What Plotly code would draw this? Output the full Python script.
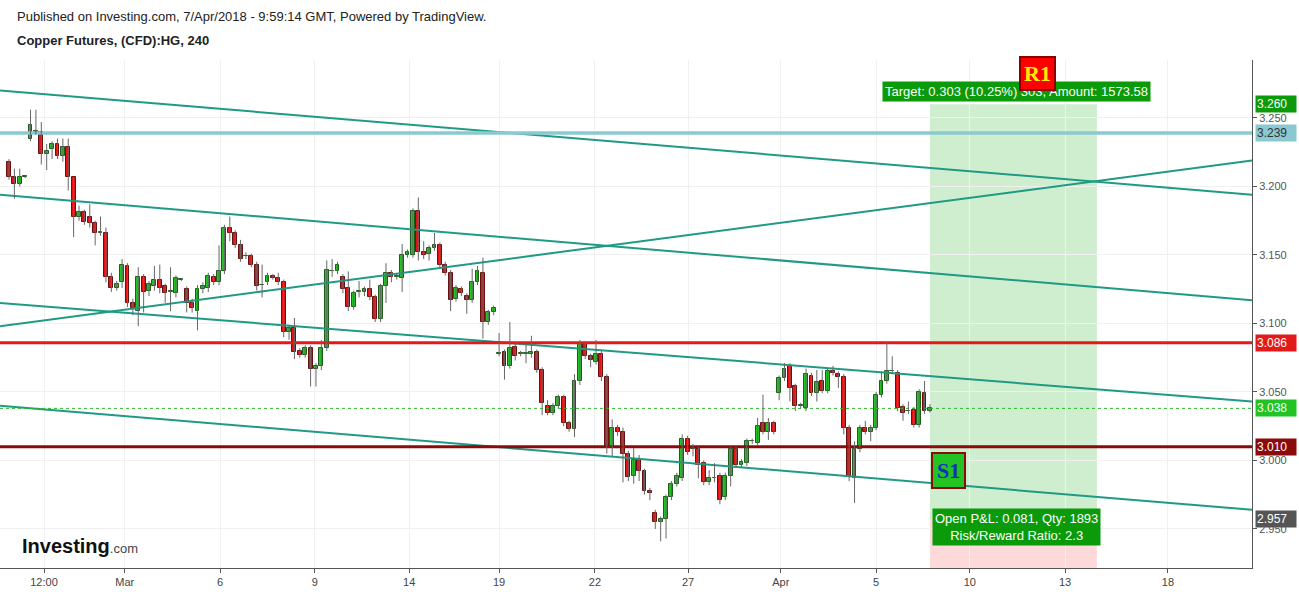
import plotly.graph_objects as go

opens = [3.218,3.207,3.202,3.207,3.235,3.240,3.240,3.224,3.227,3.231,3.222,3.229,3.207,3.178,3.181,3.178,3.173,3.166,3.166,3.134,
3.126,3.130,3.142,3.115,3.109,3.134,3.124,3.127,3.132,3.127,3.123,3.122,3.132,3.125,3.115,3.109,3.125,3.126,3.134,3.130,
3.138,3.170,3.166,3.157,3.149,3.149,3.143,3.128,3.130,3.135,3.133,3.130,3.094,3.097,3.080,3.077,3.082,3.067,3.069,3.082,
3.138,3.138,3.134,3.126,3.112,3.123,3.123,3.125,3.119,3.103,3.127,3.137,3.134,3.133,3.150,3.150,3.182,3.152,3.151,3.155,
3.157,3.143,3.137,3.118,3.125,3.120,3.117,3.130,3.137,3.101,3.108,3.078,3.079,3.069,3.083,3.078,3.078,3.078,3.079,3.066,
3.040,3.035,3.040,3.046,3.027,3.023,3.058,3.085,3.076,3.072,3.078,3.061,3.009,3.024,3.021,3.005,2.989,3.001,2.992,2.978,
2.962,2.955,2.957,2.973,2.983,2.987,3.016,3.008,3.008,2.998,2.984,2.987,2.989,2.973,2.989,3.008,2.997,2.998,3.014,3.013,
3.027,3.021,3.027,3.049,3.060,3.069,3.054,3.040,3.038,3.062,3.049,3.058,3.051,3.065,3.063,3.061,3.024,2.987,3.008,3.024,
3.021,3.024,3.048,3.058,3.065,3.064,3.039,3.036,3.037,3.026,3.049,3.036]
closes = [3.207,3.202,3.207,3.207,3.245,3.240,3.224,3.226,3.231,3.222,3.229,3.207,3.178,3.181,3.174,3.173,3.166,3.166,3.134,3.126,
3.129,3.143,3.115,3.111,3.134,3.123,3.129,3.132,3.126,3.122,3.123,3.133,3.132,3.115,3.111,3.125,3.127,3.135,3.130,3.138,
3.170,3.166,3.157,3.147,3.149,3.143,3.127,3.128,3.135,3.133,3.130,3.094,3.097,3.079,3.077,3.082,3.067,3.069,3.082,3.139,
3.138,3.143,3.125,3.112,3.122,3.123,3.125,3.119,3.103,3.127,3.137,3.134,3.134,3.150,3.152,3.182,3.152,3.150,3.155,3.157,
3.143,3.137,3.117,3.126,3.122,3.117,3.130,3.138,3.101,3.108,3.111,3.078,3.069,3.082,3.076,3.078,3.078,3.079,3.066,3.042,
3.035,3.040,3.046,3.027,3.023,3.058,3.085,3.076,3.073,3.078,3.061,3.009,3.024,3.021,3.005,2.988,3.000,2.992,2.978,2.976,
2.955,2.957,2.973,2.983,2.989,3.016,3.006,3.008,2.997,2.984,2.987,2.987,2.971,2.989,3.008,2.997,2.999,3.014,3.014,3.025,
3.021,3.027,3.021,3.060,3.067,3.053,3.040,3.040,3.063,3.049,3.057,3.051,3.065,3.064,3.061,3.024,2.988,3.008,3.024,3.021,
3.024,3.048,3.058,3.065,3.065,3.038,3.035,3.036,3.026,3.050,3.036,3.038]
highs = [3.220,3.213,3.213,3.208,3.256,3.256,3.247,3.231,3.233,3.235,3.235,3.235,3.207,3.186,3.183,3.187,3.175,3.178,3.170,3.137,
3.131,3.147,3.144,3.118,3.141,3.136,3.131,3.142,3.143,3.129,3.141,3.135,3.133,3.127,3.118,3.128,3.130,3.137,3.136,3.157,
3.172,3.178,3.168,3.161,3.152,3.151,3.145,3.143,3.137,3.136,3.137,3.132,3.099,3.104,3.082,3.084,3.084,3.071,3.088,3.146,
3.147,3.145,3.136,3.138,3.124,3.131,3.127,3.132,3.121,3.129,3.144,3.139,3.136,3.158,3.154,3.184,3.192,3.160,3.157,3.166,
3.159,3.145,3.139,3.128,3.127,3.122,3.140,3.142,3.148,3.110,3.113,3.093,3.081,3.101,3.086,3.080,3.086,3.091,3.081,3.068,
3.044,3.042,3.048,3.048,3.029,3.063,3.088,3.087,3.078,3.088,3.080,3.063,3.030,3.026,3.024,3.007,3.009,3.004,2.994,2.980,
2.964,2.959,2.975,2.985,2.991,3.019,3.018,3.012,3.010,3.000,2.993,2.998,2.991,2.991,3.010,3.010,3.001,3.016,3.016,3.031,
3.048,3.031,3.029,3.062,3.071,3.071,3.056,3.042,3.067,3.064,3.066,3.066,3.067,3.069,3.065,3.063,3.026,3.014,3.026,3.029,
3.026,3.050,3.065,3.086,3.076,3.066,3.041,3.043,3.039,3.052,3.058,3.041]
lows = [3.205,3.191,3.200,3.206,3.233,3.238,3.216,3.212,3.220,3.220,3.218,3.197,3.163,3.175,3.172,3.170,3.157,3.164,3.130,3.123,
3.124,3.126,3.112,3.106,3.098,3.108,3.120,3.124,3.122,3.115,3.109,3.119,3.131,3.108,3.108,3.095,3.122,3.123,3.128,3.128,
3.136,3.160,3.155,3.145,3.147,3.141,3.124,3.119,3.128,3.132,3.128,3.090,3.088,3.074,3.075,3.075,3.054,3.054,3.066,3.080,
3.134,3.136,3.122,3.109,3.110,3.119,3.120,3.117,3.101,3.101,3.115,3.130,3.132,3.123,3.148,3.148,3.146,3.147,3.146,3.153,
3.141,3.135,3.109,3.116,3.120,3.107,3.115,3.128,3.089,3.099,3.106,3.076,3.059,3.067,3.073,3.076,3.071,3.075,3.064,3.033,
3.033,3.033,3.038,3.025,3.021,3.017,3.055,3.074,3.068,3.070,3.058,3.005,3.003,3.018,2.984,2.985,2.983,2.985,2.975,2.971,
2.950,2.941,2.943,2.971,2.981,2.985,3.004,3.003,2.987,2.982,2.982,2.984,2.968,2.971,2.981,2.995,2.995,2.996,3.012,3.011,
3.019,3.015,3.019,3.044,3.058,3.043,3.036,3.038,3.036,3.047,3.043,3.049,3.049,3.062,3.053,3.019,2.985,2.969,3.006,3.019,
3.014,3.022,3.046,3.056,3.063,3.036,3.029,3.034,3.024,3.024,3.034,3.035]
bars = list(range(len(opens)))

tick_pos = [6.5,21.5,39.2,56.8,74.3,91.0,108.8,126.1,143.3,161.0,178.4,196.1,215.2]
tick_text = ["12:00","Mar","6","9","14","19","22","27","Apr","5","10","13","18"]

X0, X1 = -1.67, 230.8
channel_lines = [(3.270,3.194),(3.194,3.117),(3.115,3.043),(3.040,2.964),(3.098,3.219)]
levels = [(3.239,"#8ac8d2",3.5),(3.086,"#e31a1a",3),(3.010,"#8b0a0a",3)]
last_price = 3.038
entry, target, stop = 2.957, 3.260, 2.825
box_x = (171.0, 202.0)

fig = go.Figure()
fig.add_shape(type="rect", x0=box_x[0], x1=box_x[1], y0=entry, y1=target, fillcolor="rgba(130,210,130,0.38)", line_width=0, layer="below")
fig.add_shape(type="rect", x0=box_x[0], x1=box_x[1], y0=stop, y1=entry, fillcolor="rgba(250,170,170,0.45)", line_width=0, layer="below")
for a,b in channel_lines:
    fig.add_trace(go.Scatter(x=[X0,X1], y=[a,b], mode="lines", line=dict(color="#1f9a84", width=2), hoverinfo="skip", showlegend=False))
for v,c,w in levels:
    fig.add_trace(go.Scatter(x=[X0,X1], y=[v,v], mode="lines", line=dict(color=c, width=w), hoverinfo="skip", showlegend=False))
fig.add_trace(go.Scatter(x=[X0,X1], y=[last_price,last_price], mode="lines", line=dict(color="#2db82d", width=1, dash="dot"), hoverinfo="skip", showlegend=False))

wx, wy = [], []
for i in bars:
    wx += [i, i, None]; wy += [lows[i], highs[i], None]
fig.add_trace(go.Scatter(x=wx, y=wy, mode="lines", line=dict(color="#666", width=1), hoverinfo="skip", showlegend=False))
for up in (True, False):
    idx = [i for i in bars if (closes[i] >= opens[i]) == up]
    fig.add_trace(go.Bar(x=idx, base=[min(opens[i], closes[i]) for i in idx],
                         y=[max(abs(closes[i]-opens[i]), 0.0004) for i in idx], width=0.72,
                         marker=dict(color="#22c322" if up else "#e81010", line=dict(color="#1d5e1d" if up else "#6b1010", width=1)),
                         showlegend=False, hoverinfo="skip"))

W, H0, B = 1252.0, 60.0, 568.0
def px(x): return x / W
def py(y): return (B - y) / (B - H0)

ann = []
def tag(v, bg, fg="white"):
    ann.append(dict(x=1.0, xref="paper", y=v, yref="y", xanchor="left", text=f"{v:.3f}", showarrow=False,
                    bgcolor=bg, font=dict(color=fg, size=12, family="Arial"), xshift=3, borderpad=1, width=38, align="left"))
tag(3.260, "#0a9a0a")
tag(3.239, "#8ac8d2", "#333")
tag(3.086, "#e31a1a")
tag(3.038, "#22c322")
tag(3.010, "#8b0a0a")
tag(2.957, "#555555")

ann += [
    dict(x=px(15), y=py(17), xref="paper", yref="paper", xanchor="left", yanchor="middle", showarrow=False,
         text="Published on Investing.com, 7/Apr/2018 - 9:59:14 GMT, Powered by TradingView.", font=dict(size=13, color="#222", family="Arial")),
    dict(x=px(15), y=py(40), xref="paper", yref="paper", xanchor="left", yanchor="middle", showarrow=False,
         text="<b>Copper Futures, (CFD):HG, 240</b>", font=dict(size=13, color="#222", family="Arial")),
    dict(x=px(1016), y=py(91), xref="paper", yref="paper", xanchor="center", yanchor="middle", showarrow=False,
         text="Target: 0.303 (10.25%) 303, Amount: 1573.58", bgcolor="#0a9a0a", font=dict(size=13, color="white", family="Arial"), borderpad=2),
    dict(x=px(1037), y=py(74), xref="paper", yref="paper", xanchor="center", yanchor="middle", showarrow=False,
         text="<b>R1</b>", bgcolor="#ff0000", bordercolor="#8b0000", borderwidth=2, font=dict(size=22, color="#ffee00", family="Liberation Serif"), borderpad=3),
    dict(x=px(948), y=py(470), xref="paper", yref="paper", xanchor="center", yanchor="middle", showarrow=False,
         text="<b>S1</b>", bgcolor="#22c322", bordercolor="#8b0a0a", borderwidth=2, font=dict(size=22, color="#1030c0", family="Liberation Serif"), borderpad=4),
    dict(x=px(1016), y=py(527), xref="paper", yref="paper", xanchor="center", yanchor="middle", showarrow=False,
         text="Open P&L: 0.081, Qty: 1893<br>Risk/Reward Ratio: 2.3", bgcolor="#0a9a0a", font=dict(size=13, color="white", family="Arial"), borderpad=2),
    dict(x=px(20), y=py(546), xref="paper", yref="paper", xanchor="left", yanchor="middle", showarrow=False,
         text="<b>Investing</b><span style='font-size:13px;color:#444'>.com</span>", font=dict(size=20, color="#111", family="Arial")),
]

fig.update_layout(
    annotations=ann, barmode="overlay", bargap=0,
    width=1299, height=592, margin=dict(l=0, r=47, t=60, b=24),
    paper_bgcolor="white", plot_bgcolor="white",
    font=dict(family="Arial", size=11, color="#555"),
    xaxis=dict(range=[X0, X1], tickvals=tick_pos, ticktext=tick_text, showgrid=True, gridcolor="#f0f0f0",
               zeroline=False, ticks="outside", ticklen=4, tickcolor="#555",
               showline=True, linecolor="#555", tickfont=dict(size=11, color="#444")),
    yaxis=dict(range=[2.9215, 3.2923], side="right", tickvals=[2.95,3.0,3.05,3.1,3.15,3.2,3.25],
               ticktext=["2.950","3.000","3.050","3.100","3.150","3.200","3.250"], showgrid=True, gridcolor="#f0f0f0",
               zeroline=False, ticks="outside", ticklen=4, tickcolor="#555", showline=True, linecolor="#555",
               tickfont=dict(size=11, color="#555")),
)
fig.write_html("out.html", config={"displayModeBar": False},
               post_script="document.body.style.margin='0';document.body.style.padding='0';")
